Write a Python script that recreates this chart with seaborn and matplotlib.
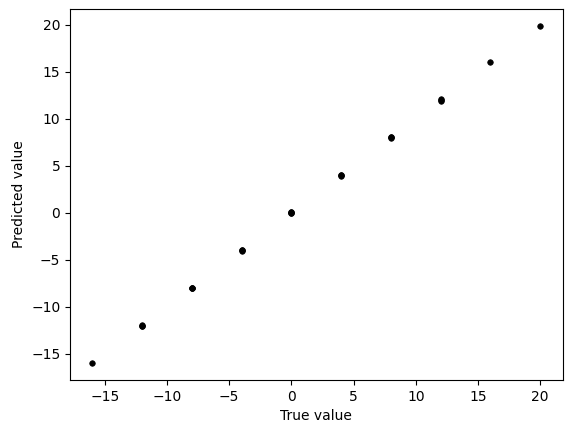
import numpy as np
import pandas as pd
import matplotlib
matplotlib.use('Agg')
import matplotlib.pyplot as plt
import seaborn as sns

# true vs predicted values, a few points per cluster
true_vals = [-16, -12, -12, -12, -8, -8, -8, -4, -4, -4, 0, 0, 0, 0,
             4, 4, 4, 8, 8, 8, 12, 12, 12, 16, 20]
pred_vals = [-16.0, -12.0, -11.95, -12.05, -8.0, -7.95, -8.05, -4.0, -3.95, -4.05,
             0.0, 0.05, -0.05, 0.1, 4.0, 4.05, 3.95, 8.0, 7.95, 8.05,
             12.0, 11.9, 12.05, 16.0, 19.9]

df = pd.DataFrame({'true': true_vals, 'pred': pred_vals})

fig, ax = plt.subplots(figsize=(5.74, 4.32), dpi=100)
fig.subplots_adjust(left=0.122, right=0.98, top=0.98, bottom=0.12)
sns.scatterplot(data=df, x='true', y='pred', color='black', s=16,
                edgecolor='black', linewidth=0.5, ax=ax)
ax.set_xlabel('True value')
ax.set_ylabel('Predicted value')
fig.savefig('out.png', dpi=100)
